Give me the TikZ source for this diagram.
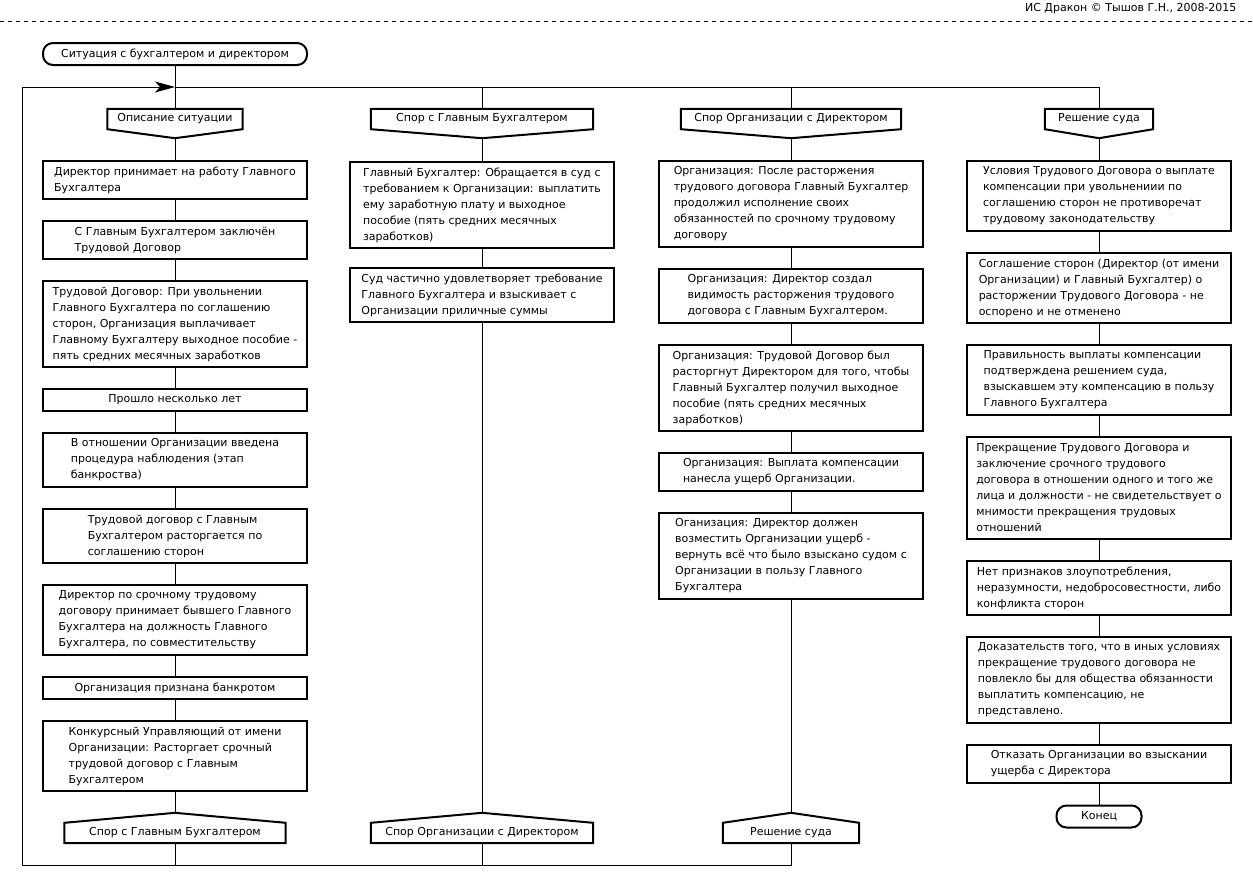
\documentclass[tikz,border=0pt]{standalone}
\usepackage{fontspec}
\setmainfont{DejaVu Sans}
\usetikzlibrary{arrows.meta,calc}
\newcommand{\drkfont}{\fontsize{11}{16}\selectfont}

\begin{document}
\begin{tikzpicture}[x=1pt,y=-1pt,
 act/.style={draw,line width=2pt,minimum width=264pt,align=left,inner sep=0pt,font=\drkfont},
 rows/.style={minimum height={16*#1+6}},
 term/.style={draw,line width=2pt,rounded corners=10pt,minimum height=22pt,inner sep=0pt,font=\drkfont},
 hdr/.style={minimum height=20pt,inner sep=0pt,font=\drkfont},
 icon/.style={line width=2pt,line join=miter},
 ln/.style={line width=1pt}]
\fill[white] (0,0) rectangle (1253,887);
\useasboundingbox (0,0) rectangle (1253,887);

% credit line
\node[anchor=east,font=\drkfont] (credit) at (1240,9) {ИС Дракон © Тышов Г.Н., 2008-2015};
\coordinate (sepl) at (0,21);
\coordinate (sepr) at (1253,21);
\draw[ln,dash pattern=on 4pt off 4pt] (sepl) -- (sepr);

% title and loop
\node[term,minimum width=264pt] (title) at (175,54) {Ситуация с бухгалтером и директором};
\coordinate (lt) at (22,87);
\coordinate (lb) at (22,865);
\coordinate (j1) at (175,87);
\coordinate (j2) at (482,87);
\coordinate (j3) at (791,87);
\coordinate (j4) at (1099,87);
\coordinate (b1) at (175,865);
\coordinate (b2) at (482,865);
\coordinate (b3) at (791,865);

% branch headers
\node[hdr,minimum width=135pt] (h1) at (175,119) {Описание ситуации};
\node[hdr,minimum width=222pt] (h2) at (482,119) {Спор с Главным Бухгалтером};
\node[hdr,minimum width=220pt] (h3) at (791,119) {Спор Организации с Директором};
\node[hdr,minimum width=108pt] (h4) at (1099,119) {Решение суда};
\foreach \n in {h1,h2,h3,h4}{
  \draw[icon] (\n.north west) -- (\n.north east) -- (\n.south east) -- ($(\n.south)+(0,9)$) -- (\n.south west) -- cycle;
  \coordinate (\n tip) at ($(\n.south)+(0,9)$);
}

% addresses
\node[hdr,minimum width=221pt] (a1) at (175,833) {Спор с Главным Бухгалтером};
\node[hdr,minimum width=222pt] (a2) at (482,833) {Спор Организации с Директором};
\node[hdr,minimum width=136pt] (a3) at (791,833) {Решение суда};
\foreach \n in {a1,a2,a3}{
  \draw[icon] (\n.south west) -- (\n.north west) -- ($(\n.north)+(0,-10)$) -- (\n.north east) -- (\n.south east) -- cycle;
  \coordinate (\n tip) at ($(\n.north)+(0,-10)$);
}

% column 1
\node[act,rows=2] (c1a) at (175,180) {Директор принимает на работу Главного\\Бухгалтера};
\node[act,rows=2] (c1b) at (175,240) {С Главным Бухгалтером заключён\\Трудовой Договор};
\node[act,rows=5] (c1c) at (175,324) {Трудовой Договор: При увольнении\\Главного Бухгалтера по соглашению\\сторон, Организация выплачивает\\Главному Бухгалтеру выходное пособие -\\пять средних месячных заработков};
\node[act,rows=1] (c1d) at (175,400) {Прошло несколько лет};
\node[act,rows=3] (c1e) at (175,460) {В отношении Организации введена\\процедура наблюдения (этап\\банкроства)};
\node[act,rows=3] (c1f) at (175,536) {Трудовой договор с Главным\\Бухгалтером расторгается по\\соглашению сторон};
\node[act,rows=4] (c1g) at (175,620) {Директор по срочному трудовому\\договору принимает бывшего Главного\\Бухгалтера на должность Главного\\Бухгалтера, по совместительству};
\node[act,rows=1] (c1h) at (175,688) {Организация признана банкротом};
\node[act,rows=4] (c1i) at (175,756) {Конкурсный Управляющий от имени\\Организации: Расторгает срочный\\трудовой договор с Главным\\Бухгалтером};

% column 2
\node[act,rows=5] (c2a) at (482,205) {Главный Бухгалтер: Обращается в суд с\\требованием к Организации: выплатить\\ему заработную плату и выходное\\пособие (пять средних месячных\\заработков)};
\node[act,rows=3] (c2b) at (482,295) {Суд частично удовлетворяет требование\\Главного Бухгалтера и взыскивает с\\Организации приличные суммы};

% column 3
\node[act,rows=5] (c3a) at (791,204) {Организация: После расторжения\\трудового договора Главный Бухгалтер\\продолжил исполнение своих\\обязанностей по срочному трудовому\\договору};
\node[act,rows=3] (c3b) at (791,296) {Организация: Директор создал\\видимость расторжения трудового\\договора с Главным Бухгалтером.};
\node[act,rows=5] (c3c) at (791,388) {Организация: Трудовой Договор был\\расторгнут Директором для того, чтобы\\Главный Бухгалтер получил выходное\\пособие (пять средних месячных\\заработков)};
\node[act,rows=2] (c3d) at (791,472) {Организация: Выплата компенсации\\нанесла ущерб Организации.};
\node[act,rows=5] (c3e) at (791,556) {Оганизация: Директор должен\\возместить Организации ущерб -\\вернуть всё что было взыскано судом с\\Организации в пользу Главного\\Бухгалтера};

% column 4
\node[act,rows=4] (c4a) at (1099,196) {Условия Трудового Договора о выплате\\компенсации при увольнениии по\\соглашению сторон не противоречат\\трудовому законодательству};
\node[act,rows=4] (c4b) at (1099,288) {Соглашение сторон (Директор (от имени\\Организации) и Главный Бухгалтер) о\\расторжении Трудового Договора - не\\оспорено и не отменено};
\node[act,rows=4] (c4c) at (1099,380) {Правильность выплаты компенсации\\подтверждена решением суда,\\взыскавшем эту компенсацию в пользу\\Главного Бухгалтера};
\node[act,rows=6] (c4d) at (1099,488) {Прекращение Трудового Договора и\\заключение срочного трудового\\договора в отношении одного и того же\\лица и должности - не свидетельствует о\\мнимости прекращения трудовых\\отношений};
\node[act,rows=3] (c4e) at (1099,588) {Нет признаков злоупотребления,\\неразумности, недобросовестности, либо\\конфликта сторон};
\node[act,rows=5] (c4f) at (1099,680) {Доказательств того, что в иных условиях\\прекращение трудового договора не\\повлекло бы для общества обязанности\\выплатить компенсацию, не\\представлено.};
\node[act,rows=2] (c4g) at (1099,764) {Отказать Организации во взыскании\\ущерба с Директора};
\node[term,minimum width=85pt] (fin) at (1099,816.5) {Конец};

% connectors
\draw[ln] (title) -- (h1);
\draw[ln,-{Stealth[length=20pt,width=11pt,inset=5pt]}] (lb) -- (lt) -- (j1);
\draw[ln] (j1) -- (j4) -- (h4);
\draw[ln] (j2) -- (h2);
\draw[ln] (j3) -- (h3);
\foreach \a/\b in {h1tip/c1a,c1a/c1b,c1b/c1c,c1c/c1d,c1d/c1e,c1e/c1f,c1f/c1g,c1g/c1h,c1h/c1i,c1i/a1tip,
  h2tip/c2a,c2a/c2b,c2b/a2tip,
  h3tip/c3a,c3a/c3b,c3b/c3c,c3c/c3d,c3d/c3e,c3e/a3tip,
  h4tip/c4a,c4a/c4b,c4b/c4c,c4c/c4d,c4d/c4e,c4e/c4f,c4f/c4g,c4g/fin}
  \draw[ln] (\a) -- (\b);
\draw[ln] (a1) -- (b1);
\draw[ln] (a2) -- (b2);
\draw[ln] (a3) -- (b3) -- (lb);
\end{tikzpicture}
\end{document}
